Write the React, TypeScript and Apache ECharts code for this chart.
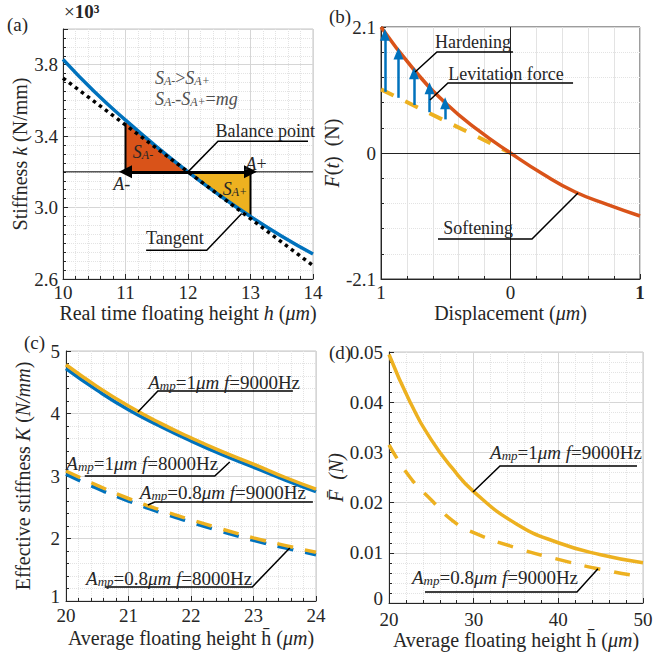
import React, { useEffect, useRef } from 'react';
import * as echarts from 'echarts';

// ---------------- data ----------------
// (a) stiffness vs. real time floating height
const hA = [10, 10.5, 11, 11.5, 12, 12.5, 13, 13.5, 14];
const kA = [3.83, 3.65, 3.49, 3.34, 3.2, 3.07, 2.95, 2.84, 2.74];
const tangentH = [10, 14];
const tangentK = [3.725, 2.675];
const balanceH = 12;
const balanceK = 3.2;
const leftH = 11;
const rightH = 13;

// (b) force vs displacement
const dispB = [-1, -0.75, -0.5, -0.25, 0, 0.25, 0.5, 0.75, 1];
const forceB = [2.1, 1.4, 0.83, 0.38, 0, -0.35, -0.65, -0.86, -1.05];
const linDisp = [-1, 0];
const linForce = [1.06, 0];
const arrowX = [-0.97, -0.865, -0.745, -0.625, -0.505];
const arrowFrom = [1.02, 0.92, 0.8, 0.68, 0.56];
const arrowTo = [1.97, 1.66, 1.33, 1.08, 0.83];

// (c) effective stiffness vs average floating height
const hC = [20, 20.5, 21, 21.5, 22, 22.5, 23, 23.5, 24];
const k1_9000 = [4.78, 4.43, 4.12, 3.85, 3.61, 3.39, 3.19, 2.98, 2.79];
const k1_8000 = [4.72, 4.37, 4.06, 3.8, 3.56, 3.34, 3.14, 2.94, 2.75];
const k08_9000 = [3.08, 2.85, 2.64, 2.46, 2.3, 2.15, 2.01, 1.89, 1.78];
const k08_8000 = [3.03, 2.8, 2.6, 2.42, 2.26, 2.11, 1.97, 1.85, 1.74];

// (d) average force vs average floating height
const hD = [20, 22.5, 25, 27.5, 30, 35, 40, 45, 50];
const f1_9000 = [0.0495, 0.04, 0.0325, 0.0268, 0.0222, 0.0158, 0.012, 0.0096, 0.008];
const f08_9000 = [0.0315, 0.025, 0.0205, 0.0164, 0.014, 0.011, 0.0087, 0.0067, 0.0052];

// ---------------- styles ----------------
const FONT = '"Liberation Serif", "Times New Roman", serif';
const TXT = '#262626';
const GRAY = '#505050';
const BLUE = '#0072BD';
const ORANGE = '#EDB120';
const RED = '#D95319';
const FS_TICK = 19;
const FS_NAME = 20;
const FS_NOTE = 18;
const FS_AMP = 19;

const rich = (color = TXT, size = FS_NOTE) => ({
  n: { fontFamily: FONT, fontSize: size, color },
  i: { fontFamily: FONT, fontSize: size, color, fontStyle: 'italic' },
  s: { fontFamily: FONT, fontSize: Math.round(size * 0.68), color, fontStyle: 'italic', verticalAlign: 'bottom', lineHeight: 10 },
  b: { fontFamily: FONT, fontSize: size, color, fontWeight: 'bold' },
  lift: { fontFamily: FONT, fontSize: size, color, padding: [0, 0, 9, 0] },
});

const zip = (xs: number[], ys: number[]) => xs.map((x, i) => [x, ys[i]]);

function axis(gridIndex: number, o: any) {
  return {
    type: 'value',
    gridIndex,
    min: o.min,
    max: o.max,
    interval: o.interval,
    name: o.name,
    nameLocation: 'middle',
    nameGap: o.nameGap,
    nameTextStyle: { fontFamily: FONT, fontSize: FS_NAME, color: TXT, rich: rich(TXT, FS_NAME) },
    axisLine: { show: true, onZero: false, lineStyle: { color: TXT, width: 1 } },
    axisTick: { show: true, inside: true, length: 5, lineStyle: { color: TXT } },
    minorTick: { show: true, splitNumber: o.minor, length: 3, lineStyle: { color: TXT } },
    axisLabel: {
      fontFamily: FONT,
      fontSize: FS_TICK,
      color: TXT,
      margin: o.margin ?? 6,
      formatter: o.formatter,
      showMaxLabel: o.showMax ?? true,
      rich: rich(TXT, FS_TICK),
    },
    splitLine: { show: true, lineStyle: { color: '#d6d6d6', width: 1, type: o.majorType ?? 'solid' } },
    minorSplitLine: { show: true, lineStyle: { color: '#e3e3e3', width: 1, type: o.minorType ?? 'dotted' } },
  };
}

function region(points: number[][], color: string) {
  return {
    type: 'custom',
    xAxisIndex: 0,
    yAxisIndex: 0,
    silent: true,
    z: 1,
    data: [points[0]],
    renderItem: (_p: any, api: any) => ({
      type: 'polygon',
      shape: { points: points.map((p) => api.coord(p)) },
      style: { fill: color },
    }),
  };
}

const i11 = hA.indexOf(leftH);
const i12 = hA.indexOf(balanceH);
const i13 = hA.indexOf(rightH);
const redPts = [[leftH, balanceK], ...zip(hA, kA).slice(i11, i12 + 1)];
const yellowPts = [...zip(hA, kA).slice(i12, i13 + 1), [rightH, balanceK]];

const option: any = {
  animation: false,
  grid: [
    { left: 63, top: 29, width: 250, height: 250, show: true, borderColor: '#c4c4c4', borderWidth: 1 },
    { left: 381, top: 27, width: 259, height: 252, show: true, borderColor: '#3a3a3a', borderWidth: 1 },
    { left: 66, top: 351, width: 250, height: 250, show: true, borderColor: '#c4c4c4', borderWidth: 1 },
    { left: 389, top: 352, width: 254, height: 251, show: true, borderColor: '#c4c4c4', borderWidth: 1 },
  ],
  xAxis: [
    axis(0, {
      min: 10, max: 14, interval: 1, minor: 5, nameGap: 23, margin: 4,
      name: '{n|Real time floating height }{i|h}{n| (}{i|μm}{n|)}',
    }),
    axis(1, {
      min: -1, max: 1, interval: 1, minor: 5, nameGap: 23, margin: 4, minorType: 'solid',
      name: '{n|Displacement (}{i|μm}{n|)}',
      formatter: (v: number) => (v === 1 ? '{b|1}' : String(Math.abs(v))),
    }),
    axis(2, {
      min: 20, max: 24, interval: 1, minor: 5, nameGap: 27, margin: 5,
      name: '{n|Average floating height h\u0304 (}{i|μm}{n|)}',
    }),
    axis(3, {
      min: 20, max: 50, interval: 10, minor: 5, nameGap: 26, margin: 7,
      name: '{n|Average floating height h\u0304 (}{i|μm}{n|)}',
    }),
  ],
  yAxis: [
    axis(0, {
      min: 2.6, max: 4.0, interval: 0.4, minor: 8, nameGap: 30, margin: 5, showMax: false,
      name: '{n|Stiffness }{i|k}{n| (N/mm)}',
      formatter: (v: number) => v.toFixed(1),
    }),
    axis(1, {
      min: -2.1, max: 2.1, interval: 2.1, minor: 5, nameGap: 23, margin: 5,
      name: '{i|F}{n|(}{i|t}{n|)  (N)}',
    }),
    axis(2, {
      min: 1, max: 5, interval: 1, minor: 5, nameGap: 33, margin: 6,
      name: '{n|Effective stiffness }{i|K}{n| (}{i|N/mm}{n|)}',
      formatter: (v: number) => (v === 1 ? '{lift|1}' : String(v)),
    }),
    axis(3, {
      min: 0, max: 0.05, interval: 0.01, minor: 5, nameGap: 39, margin: 6,
      name: '{i|F\u0304}{n|  }{i|(N)}',
      formatter: (v: number) => (v === 0 ? '{lift|0}' : String(v)),
    }),
  ],
  series: [
    // ---------- (a)
    region(redPts, RED),
    region(yellowPts, ORANGE),
    {
      type: 'line', xAxisIndex: 0, yAxisIndex: 0, symbol: 'none', silent: true, z: 2,
      data: [[hA[0], balanceK], [hA[hA.length - 1], balanceK]],
      lineStyle: { color: '#000', width: 1 },
      markLine: {
        silent: true, animation: false, label: { show: false },
        data: [
          [
            { coord: [balanceH, balanceK], symbol: 'none' },
            { coord: [leftH, balanceK], symbol: 'triangle', symbolSize: 13 },
          ],
          [
            { coord: [balanceH, balanceK], symbol: 'none' },
            { coord: [rightH, balanceK], symbol: 'triangle', symbolSize: 13 },
          ],
        ],
        lineStyle: { color: '#000', width: 3, type: 'solid' },
        itemStyle: { color: '#000' },
      },
    },
    {
      type: 'line', xAxisIndex: 0, yAxisIndex: 0, symbol: 'none', silent: true, z: 2,
      data: [[leftH, balanceK], [leftH, kA[i11] - 0.02]],
      lineStyle: { color: '#000', width: 2 },
    },
    {
      type: 'line', xAxisIndex: 0, yAxisIndex: 0, symbol: 'none', silent: true, z: 2,
      data: [[rightH, balanceK], [rightH, kA[i13]]],
      lineStyle: { color: '#000', width: 2 },
    },
    {
      type: 'line', xAxisIndex: 0, yAxisIndex: 0, symbol: 'none', smooth: true, z: 3,
      data: zip(hA, kA),
      lineStyle: { color: BLUE, width: 3.5 },
    },
    {
      type: 'line', xAxisIndex: 0, yAxisIndex: 0, symbol: 'none', z: 4,
      data: zip(tangentH, tangentK),
      lineStyle: { color: '#000', width: 3.5, type: [3.5, 4] },
    },
    // ---------- (b)
    {
      type: 'line', xAxisIndex: 1, yAxisIndex: 1, symbol: 'none', silent: true, z: 2,
      data: zip(linDisp, linForce),
      lineStyle: { color: ORANGE, width: 4, type: [14, 13] },
      markLine: {
        silent: true, animation: false, label: { show: false },
        data: arrowX.map((x, i) => [
          { coord: [x, arrowFrom[i]], symbol: 'none' },
          { coord: [x, arrowTo[i]], symbol: 'triangle', symbolSize: [10, 12] },
        ]),
        lineStyle: { color: BLUE, width: 2.5, type: 'solid' },
        itemStyle: { color: BLUE },
      },
    },
    {
      type: 'line', xAxisIndex: 1, yAxisIndex: 1, symbol: 'none', smooth: true, z: 3,
      data: zip(dispB, forceB),
      lineStyle: { color: RED, width: 3.5 },
      markLine: {
        silent: true, animation: false, symbol: 'none', label: { show: false },
        data: [{ xAxis: 0 }, { yAxis: 0 }],
        lineStyle: { color: '#222', width: 1, type: 'solid' },
      },
    },
    // ---------- (c)
    {
      type: 'line', xAxisIndex: 2, yAxisIndex: 2, symbol: 'none', smooth: true, z: 2,
      data: zip(hC, k1_8000), lineStyle: { color: BLUE, width: 3.5 },
    },
    {
      type: 'line', xAxisIndex: 2, yAxisIndex: 2, symbol: 'none', smooth: true, z: 3,
      data: zip(hC, k1_9000), lineStyle: { color: ORANGE, width: 3.5 },
    },
    {
      type: 'line', xAxisIndex: 2, yAxisIndex: 2, symbol: 'none', smooth: true, z: 2,
      data: zip(hC, k08_8000), lineStyle: { color: BLUE, width: 3.5, type: [16, 12] },
    },
    {
      type: 'line', xAxisIndex: 2, yAxisIndex: 2, symbol: 'none', smooth: true, z: 3,
      data: zip(hC, k08_9000), lineStyle: { color: ORANGE, width: 3.5, type: [16, 12] },
    },
    // ---------- (d)
    {
      type: 'line', xAxisIndex: 3, yAxisIndex: 3, symbol: 'none', smooth: true, z: 3,
      data: zip(hD, f1_9000), lineStyle: { color: ORANGE, width: 3.5 },
    },
    {
      type: 'line', xAxisIndex: 3, yAxisIndex: 3, symbol: 'none', smooth: true, z: 3,
      data: zip(hD, f08_9000), lineStyle: { color: ORANGE, width: 3.5, type: [16, 14] },
    },
  ],
};

// annotations anchored in data coordinates of each grid
const callouts = [
  { g: 0, pts: [[12, 3.2], [12.48, 3.372], [13.92, 3.372]] },
  { g: 0, pts: [[12.86, 2.967], [12.3, 2.761], [11.33, 2.761]] },
  { g: 1, pts: [[-0.737, 1.35], [-0.568, 1.683], [0.019, 1.683]] },
  { g: 1, pts: [[-0.622, 0.883], [-0.483, 1.167], [0.483, 1.167]] },
  { g: 1, pts: [[0.521, -0.667], [0.166, -1.433], [-0.56, -1.433]] },
  { g: 2, pts: [[21.15, 4.024], [21.47, 4.36], [23.63, 4.36]] },
  { g: 2, pts: [[22.62, 3.224], [22.38, 3.0], [20.3, 3.0]] },
  { g: 2, pts: [[21.31, 2.536], [21.42, 2.584], [23.95, 2.584]] },
  { g: 2, pts: [[23.58, 1.848], [22.98, 1.224], [20.62, 1.224]] },
  { g: 3, pts: [[29.92, 0.0221], [33.11, 0.0273], [49.29, 0.0273]] },
  { g: 3, pts: [[44.68, 0.0068], [42.2, 0.0022], [24.25, 0.0022]] },
];

const labels = [
  { g: 0, at: [11.47, 3.728], align: 'left', color: GRAY, size: FS_NOTE, text: '{i|S}{s|A-}{n|>}{i|S}{s|A+}' },
  { g: 0, at: [11.47, 3.61], align: 'left', color: GRAY, size: FS_NOTE, text: '{i|S}{s|A-}{n|-}{i|S}{s|A+}{n|=}{i|mg}' },
  { g: 0, at: [11.28, 3.31], align: 'center', color: TXT, size: FS_NOTE, text: '{i|S}{s|A-}' },
  { g: 0, at: [12.75, 3.106], align: 'center', color: TXT, size: FS_NOTE, text: '{i|S}{s|A+}' },
  { g: 0, at: [10.94, 3.133], align: 'center', color: TXT, size: FS_NOTE, text: '{i|A}{n|-}' },
  { g: 0, at: [13.09, 3.244], align: 'center', color: TXT, size: FS_NOTE, text: '{i|A}{n|+}' },
  { g: 0, at: [12.44, 3.43], align: 'left', color: TXT, size: FS_NOTE, text: '{n|Balance point}' },
  { g: 0, at: [11.79, 2.828], align: 'center', color: TXT, size: FS_NOTE, text: '{n|Tangent}' },
  { g: 1, at: [-0.29, 1.85], align: 'center', color: TXT, size: FS_NOTE, text: '{n|Hardening}' },
  { g: 1, at: [-0.035, 1.317], align: 'center', color: TXT, size: FS_NOTE, text: '{n|Levitation force}' },
  { g: 1, at: [-0.25, -1.25], align: 'center', color: TXT, size: FS_NOTE, text: '{n|Softening}' },
  { g: 2, at: [22.53, 4.504], align: 'center', color: TXT, size: FS_AMP, text: '{i|A}{s|mp}{n|=1}{i|μm f}{n|=9000Hz}' },
  { g: 2, at: [21.22, 3.208], align: 'center', color: TXT, size: FS_AMP, text: '{i|A}{s|mp}{n|=1}{i|μm f}{n|=8000Hz}' },
  { g: 2, at: [22.51, 2.744], align: 'center', color: TXT, size: FS_AMP, text: '{i|A}{s|mp}{n|=0.8}{i|μm f}{n|=9000Hz}' },
  { g: 2, at: [21.65, 1.368], align: 'center', color: TXT, size: FS_AMP, text: '{i|A}{s|mp}{n|=0.8}{i|μm f}{n|=8000Hz}' },
  { g: 3, at: [40.9, 0.0299], align: 'center', color: TXT, size: FS_AMP, text: '{i|A}{s|mp}{n|=1}{i|μm f}{n|=9000Hz}' },
  { g: 3, at: [32.52, 0.005], align: 'center', color: TXT, size: FS_AMP, text: '{i|A}{s|mp}{n|=0.8}{i|μm f}{n|=9000Hz}' },
];

const panelTags = [
  { x: 7, y: 24, text: '{n|(a)}' },
  { x: 329, y: 16, text: '{n|(b)}' },
  { x: 24, y: 342, text: '{n|(c)}' },
  { x: 329, y: 352, text: '{n|(d)}' },
  { x: 64, y: 11, text: '{n|×}{b|10³}' },
];

function buildGraphic(chart: any) {
  const els: any[] = [];
  callouts.forEach((c) => {
    const pts = c.pts.map((p) => chart.convertToPixel({ gridIndex: c.g }, p));
    els.push({
      type: 'polyline', silent: true, z: 100,
      shape: { points: pts },
      style: { stroke: '#000', lineWidth: 1.5, fill: null },
    });
  });
  labels.forEach((l) => {
    const [x, y] = chart.convertToPixel({ gridIndex: l.g }, l.at);
    els.push({
      type: 'text', silent: true, z: 101, x, y,
      style: {
        text: l.text, rich: rich(l.color, l.size), align: l.align, verticalAlign: 'middle',
        fontFamily: FONT, fontSize: l.size, fill: l.color,
      },
    });
  });
  panelTags.forEach((t) => {
    els.push({
      type: 'text', silent: true, z: 101, x: t.x, y: t.y,
      style: { text: t.text, rich: rich(TXT, 19), align: 'left', verticalAlign: 'middle', fontFamily: FONT, fontSize: 19, fill: TXT },
    });
  });
  return els;
}

export default function App() {
  const ref = useRef<HTMLDivElement>(null);
  useEffect(() => {
    const chart = echarts.init(ref.current!, null, { renderer: 'svg' });
    chart.setOption(option);
    chart.setOption({ graphic: buildGraphic(chart) });
    return () => chart.dispose();
  }, []);
  return (
    <div
      ref={ref}
      style={{ position: 'absolute', left: 0, top: 0, width: 656, height: 653, background: '#fff' }}
    />
  );
}
